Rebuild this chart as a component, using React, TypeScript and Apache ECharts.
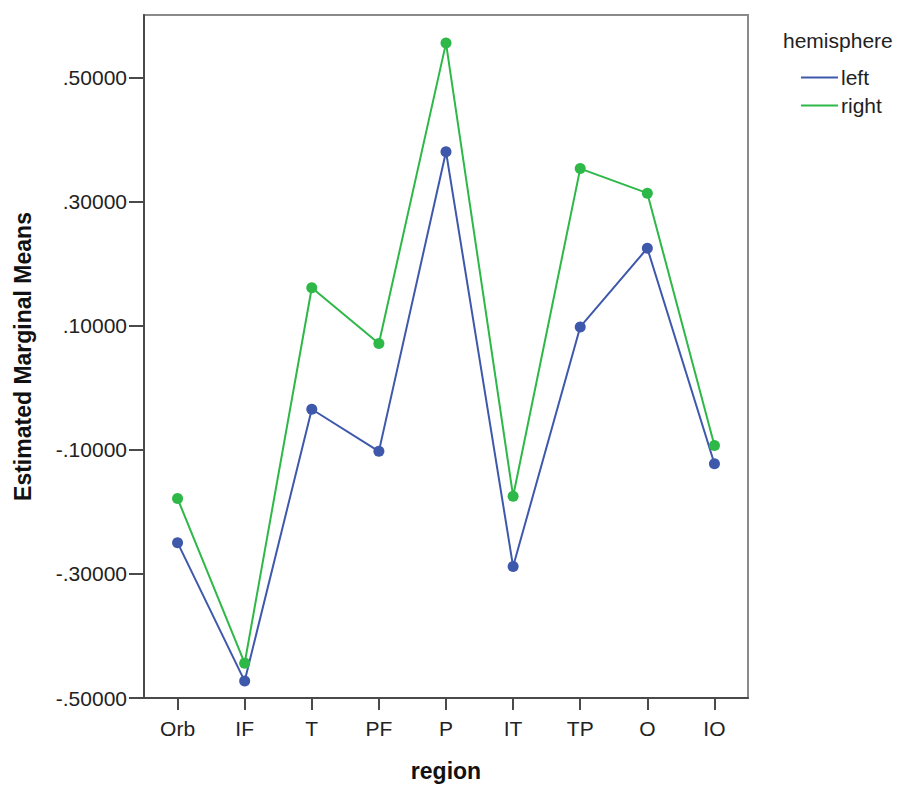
import React, { useEffect, useRef } from "react";
import * as echarts from "echarts";

const regions = ["Orb", "IF", "T", "PF", "P", "IT", "TP", "O", "IO"];
const leftValues = [-0.2496, -0.4727, -0.0345, -0.1024, 0.3807, -0.2881, 0.0982, 0.225, -0.1223];
const rightValues = [-0.1785, -0.4438, 0.1613, 0.0714, 0.5557, -0.1747, 0.3534, 0.3138, -0.0928];
const yTicks = [-0.5, -0.3, -0.1, 0.1, 0.3, 0.5];
const seriesNames = ["left", "right"];

const fmt = (v: number) => {
  const s = v.toFixed(5);
  return s.replace(/^(-?)0\./, "$1.");
};

export default function App() {
  const ref = useRef<HTMLDivElement>(null);
  useEffect(() => {
    if (!ref.current) return;
    const chart = echarts.init(ref.current, null, { renderer: "svg" });
    const font = "Arial, 'Liberation Sans', sans-serif";
    chart.setOption({
      animation: false,
      backgroundColor: "#ffffff",
      title: {
        text: "hemisphere",
        left: 778,
        top: 25,
        textStyle: { fontFamily: font, fontSize: 21, fontWeight: "normal", color: "#222" },
      },
      legend: {
        orient: "vertical",
        left: 796,
        top: 62,
        itemWidth: 37,
        itemHeight: 2,
        itemGap: 7,
        icon: "rect",
        data: seriesNames,
        textStyle: { fontFamily: font, fontSize: 21, color: "#222", padding: [0, 0, 0, -2] },
      },
      grid: {
        left: 144,
        top: 15,
        width: 604,
        height: 686,
        show: true,
        borderColor: "#8a8a8a",
        borderWidth: 2,
        backgroundColor: "transparent",
      },
      xAxis: {
        type: "category",
        data: regions,
        boundaryGap: true,
        name: "region",
        nameLocation: "middle",
        nameGap: 61,
        nameTextStyle: { fontFamily: font, fontSize: 23, fontWeight: "bold", color: "#111" },
        axisLine: { show: true, onZero: false, lineStyle: { color: "#4a4a4a", width: 2 } },
        axisTick: { show: true, alignWithLabel: true, length: 12, lineStyle: { color: "#4a4a4a", width: 2 } },
        axisLabel: { fontFamily: font, fontSize: 21, color: "#222", margin: 20 },
        splitLine: { show: false },
      },
      yAxis: {
        type: "value",
        min: -0.5,
        max: 0.601,
        name: "Estimated Marginal Means",
        nameLocation: "middle",
        nameRotate: 90,
        nameGap: 110,
        nameTextStyle: { fontFamily: font, fontSize: 23, fontWeight: "bold", color: "#111" },
        axisLine: { show: true, lineStyle: { color: "#4a4a4a", width: 2 } },
        axisTick: { show: true, length: 15, customValues: yTicks, lineStyle: { color: "#4a4a4a", width: 2 } },
        axisLabel: {
          fontFamily: font,
          fontSize: 21,
          color: "#222",
          margin: 17,
          customValues: yTicks,
          formatter: (v: number) => fmt(v),
        },
        splitLine: { show: false },
      },
      series: [
        {
          name: seriesNames[0],
          type: "line",
          data: leftValues,
          symbol: "circle",
          symbolSize: 11,
          color: "#3e58ac",
          lineStyle: { width: 2, color: "#3e58ac" },
          itemStyle: { color: "#3e58ac" },
          z: 2,
        },
        {
          name: seriesNames[1],
          type: "line",
          data: rightValues,
          symbol: "circle",
          symbolSize: 11,
          color: "#2eb848",
          lineStyle: { width: 2, color: "#2eb848" },
          itemStyle: { color: "#2eb848" },
          z: 3,
        },
      ],
    });
    return () => chart.dispose();
  }, []);
  return (
    <div
      ref={ref}
      style={{ position: "fixed", left: 0, top: 0, width: 902, height: 787, background: "#fff" }}
    />
  );
}
